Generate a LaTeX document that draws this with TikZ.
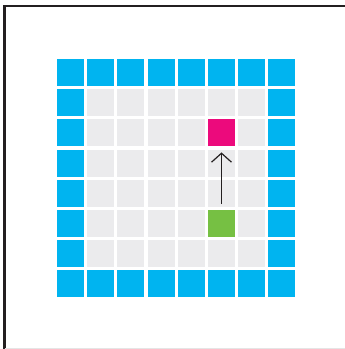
\documentclass[tikz,border=0pt]{standalone}
\usepackage{xcolor}
\usepackage{tikz}
\usetikzlibrary{arrows.meta, positioning}
\definecolor{wallblue}{HTML}{00B4F0}
\definecolor{floorgray}{HTML}{EBEBED}
\definecolor{goalpink}{HTML}{EC0A7C}
\definecolor{startgreen}{HTML}{76C043}
\definecolor{framedark}{HTML}{231F20}

\begin{document}
\begin{tikzpicture}[x=1pt, y=-1pt, >=Stealth,
    cell/.style={minimum size=27pt, inner sep=0pt, outer sep=0pt, draw=none},
    wall/.style={cell, fill=wallblue},
    floor/.style={cell, fill=floorgray}]
  \useasboundingbox (0,0) rectangle (345,349);

  % Rahmen
  \draw[framedark, line width=2.4pt] (4.5,349) -- (4.5,6) -- (345,6);
  \draw[gray!20, line width=1pt] (4.5,348.5) -- (345,348.5);

  % Raster 8x8
  \foreach \c in {0,...,7} {
    \foreach \r in {0,...,7} {
      \pgfmathtruncatemacro{\border}{(\c==0 || \c==7 || \r==0 || \r==7) ? 1 : 0}
      \ifnum\border=1
        \node[wall] (c\c r\r) at (70.5+30.2*\c, 72.5+30.2*\r) {};
      \else
        \node[floor] (c\c r\r) at (70.5+30.2*\c, 72.5+30.2*\r) {};
      \fi
    }
  }

  % Ziel und Start
  \node[cell, fill=goalpink] (goal) at (c5r2) {};
  \node[cell, fill=startgreen] (start) at (c5r5) {};

  % Bewegung
  \draw[-{Straight Barb[length=9pt, width=20pt]}, framedark, line width=1.2pt,
        shorten <=6pt, shorten >=6pt] (start.north) -- (goal.south);
\end{tikzpicture}
\end{document}
